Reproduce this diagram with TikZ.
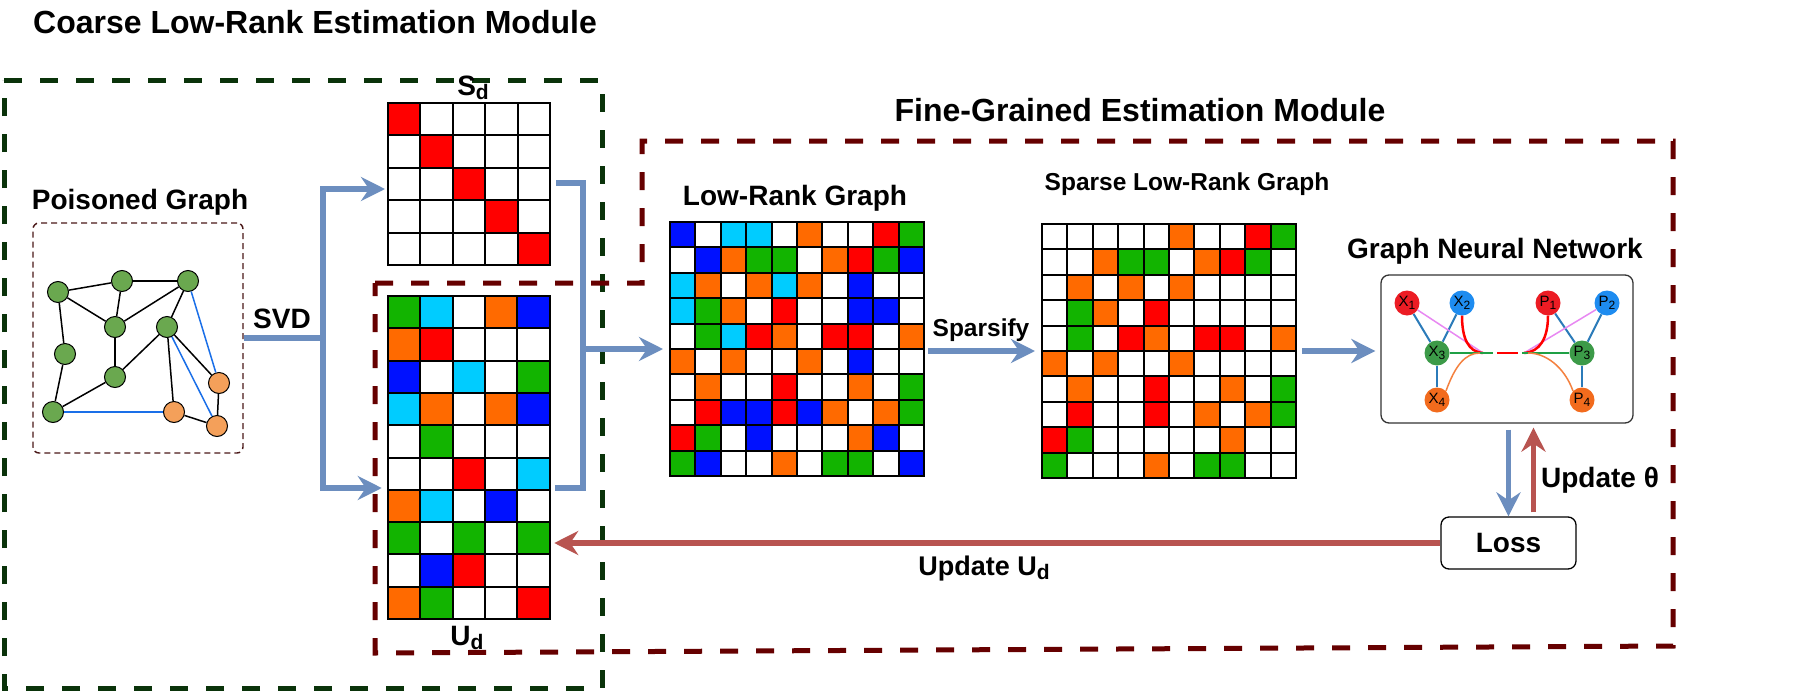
\documentclass[tikz,border=0pt]{standalone}
\usepackage{fontspec}
\setmainfont{Liberation Sans}
\usetikzlibrary{arrows.meta,calc}

\definecolor{mG}{HTML}{12B400}
\definecolor{mC}{HTML}{00CCFF}
\definecolor{mW}{HTML}{FFFFFF}
\definecolor{mO}{HTML}{FF6A00}
\definecolor{mB}{HTML}{0011FF}
\definecolor{mR}{HTML}{FF0000}
\definecolor{arrB}{HTML}{6C8EBF}
\definecolor{arrR}{HTML}{B85450}
\definecolor{boxG}{HTML}{0A330A}
\definecolor{boxR}{HTML}{660000}
\definecolor{pgBox}{HTML}{4A1818}
\definecolor{pgG}{HTML}{6AA84F}
\definecolor{pgO}{HTML}{F4A05A}
\definecolor{pgE}{HTML}{1A6FE8}
\definecolor{gR}{HTML}{EC1C24}
\definecolor{gB}{HTML}{1E8CF0}
\definecolor{gG}{HTML}{3C9A48}
\definecolor{gO}{HTML}{F26B1D}
\definecolor{gE}{HTML}{2B7BB9}
\definecolor{gP}{HTML}{E888F2}
\definecolor{gGl}{HTML}{1FA045}

\newcommand{\cellgrid}[6]{%
  \foreach \rw [count=\ri from 0] in {#6}{%
    \foreach \cl [count=\ci from 0] in \rw {%
      \fill[fill=m\cl] ({#1+\ci*#3},{#2+\ri*#3}) rectangle ++(#3,#3);
    }%
  }%
  \foreach \k in {0,...,#4} \draw[gridl] ({#1+\k*#3},#2) -- ({#1+\k*#3},{#2+#5*#3});
  \foreach \k in {0,...,#5} \draw[gridl] (#1,{#2+\k*#3}) -- ({#1+#4*#3},{#2+\k*#3});
  \draw[gridl] (#1,#2) rectangle ({#1+#4*#3},{#2+#5*#3});
}
\newcommand{\gsub}[2]{#1\raisebox{-0.35ex}{\fontsize{12}{12}\selectfont #2}}
\newcommand{\bsub}[2]{#1\raisebox{-0.3ex}{\fontsize{21}{21}\selectfont #2}}

\begin{document}
\begin{tikzpicture}[x=1pt,y=-1pt,
  gridl/.style={draw=black,line width=2pt,line join=miter},
  mtx/.style={inner sep=0pt,outer sep=0pt,draw=none},
  lbl/.style={font=\fontsize{28}{32}\selectfont\bfseries,inner sep=0pt,anchor=base},
  slbl/.style={font=\fontsize{24.5}{28}\selectfont\bfseries,inner sep=0pt,anchor=base},
  ttl/.style={font=\fontsize{32}{36}\selectfont\bfseries,inner sep=0pt,anchor=base},
  bline/.style={draw=arrB,line width=5.5pt},
  barrow/.style={draw=arrB,line width=5.5pt,-{Stealth[length=24pt,width=24pt,inset=8pt]}},
  rarrow/.style={draw=arrR,line width=5.5pt,-{Stealth[length=24pt,width=24pt,inset=8pt]}},
  gbox/.style={draw=boxG,line width=5pt,dash pattern=on 18pt off 18pt},
  rbox/.style={draw=boxR,line width=5pt,dash pattern=on 18pt off 18pt},
  pn/.style={circle,draw=black,line width=1pt,minimum size=21pt,inner sep=0pt},
  pe/.style={draw=black,line width=1.5pt},
  pb/.style={draw=pgE,line width=1.5pt},
  gn/.style={circle,minimum size=25pt,inner sep=0pt,font=\fontsize{15}{15}\selectfont},
  gedge/.style={draw=gE,line width=2pt},
  gpink/.style={draw=gP,line width=1.5pt},
  gred/.style={draw=red,line width=2.5pt},
  ggreen/.style={draw=gGl,line width=2.5pt},
  gorange/.style={draw=gO!85!white,line width=1.5pt},
  rbx/.style={draw=black,line width=1.3pt,rounded corners=8pt,inner sep=0pt}
]
\useasboundingbox (0,0) rectangle (1816,691);
\fill[white] (0,0) rectangle (1816,691);

% module boxes
\draw[gbox] (4,80) -- (602,80) -- (602,688) -- (4,688) -- cycle;
\draw[rbox] (375,283) -- (642,283) -- (642,141) -- (1673,141) -- (1673,646) -- (375,653) -- cycle;

% titles
\node[ttl] (t1) at (315,33) {Coarse Low-Rank Estimation Module};
\node[ttl] (t2) at (1140,121) {Fine-Grained Estimation Module};

% poisoned graph
\node[lbl] (pgl) at (140,209) {Poisoned Graph};
\node[draw=pgBox,line width=1.4pt,dash pattern=on 6pt off 4pt,rounded corners=6pt,minimum width=210pt,minimum height=230pt,inner sep=0pt] (pg) at (138,338) {};
\node[pn,fill=pgG] (p1) at (58,292) {};
\node[pn,fill=pgG] (p2) at (122,281) {};
\node[pn,fill=pgG] (p3) at (188,281) {};
\node[pn,fill=pgG] (p4) at (115,327) {};
\node[pn,fill=pgG] (p5) at (167,327) {};
\node[pn,fill=pgG] (p6) at (65,354) {};
\node[pn,fill=pgG] (p7) at (115,377) {};
\node[pn,fill=pgG] (p8) at (53,412) {};
\node[pn,fill=pgO] (p9) at (219,383) {};
\node[pn,fill=pgO] (p10) at (174,412) {};
\node[pn,fill=pgO] (p11) at (217,426) {};
\draw[pe] (p1) -- (p2);
\draw[pe] (p2) -- (p3);
\draw[pe] (p1) -- (p4);
\draw[pe] (p2) -- (p4);
\draw[pe] (p4) -- (p3);
\draw[pe] (p3) -- (p5);
\draw[pe] (p1) -- (p6);
\draw[pe] (p6) -- (p8);
\draw[pe] (p4) -- (p7);
\draw[pe] (p7) -- (p8);
\draw[pe] (p7) -- (p5);
\draw[pe] (p5) -- (p10);
\draw[pe] (p5) -- (p9);
\draw[pe] (p9) -- (p11);
\draw[pe] (p10) -- (p11);
\draw[pb] (p3) -- (p9);
\draw[pb] (p5) -- (p11);
\draw[pb] (p8) -- (p10);

% S_d
\cellgrid{388}{103}{32.4}{5}{5}{{R,W,W,W,W},{W,R,W,W,W},{W,W,R,W,W},{W,W,W,R,W},{W,W,W,W,R}}
\node[mtx,minimum width=162pt,minimum height=162pt] (sd) at (469,184) {};
\node[lbl] (sdl) at (473,95) {\bsub{S}{d}};

% U_d
\cellgrid{388}{296}{32.3}{5}{10}{{G,C,W,O,B},{O,R,W,W,W},{B,W,C,W,G},{C,O,W,O,B},{W,G,W,W,W},{W,W,R,W,C},{O,C,W,B,W},{G,W,G,W,G},{W,B,R,W,W},{O,G,W,W,R}}
\node[mtx,minimum width=161.5pt,minimum height=323pt] (ud) at (469.5,457.5) {};
\node[lbl] (udl) at (467,645) {\bsub{U}{d}};

% Low-rank graph
\cellgrid{670}{222}{25.4}{10}{10}{{B,W,C,C,W,O,W,W,R,G},{W,B,O,G,G,W,O,R,G,B},{C,O,W,O,C,O,W,B,W,W},{C,G,O,W,R,W,W,B,B,W},{W,G,C,R,O,W,R,R,W,O},{O,W,O,W,W,O,W,B,W,W},{W,O,W,W,R,W,W,O,W,G},{W,R,B,B,R,B,O,W,O,G},{R,G,W,B,W,W,W,O,B,W},{G,B,W,W,O,W,G,G,W,B}}
\node[mtx,minimum width=254pt,minimum height=254pt] (lr) at (797,349) {};
\node[lbl] (lrl) at (795,205) {Low-Rank Graph};

% Sparse low-rank graph
\cellgrid{1042}{224}{25.4}{10}{10}{{W,W,W,W,W,O,W,W,R,G},{W,W,O,G,G,W,O,R,G,W},{W,O,W,O,W,O,W,W,W,W},{W,G,O,W,R,W,W,W,W,W},{W,G,W,R,O,W,R,R,W,O},{O,W,O,W,W,O,W,W,W,W},{W,O,W,W,R,W,W,O,W,G},{W,R,W,W,R,W,O,W,O,G},{R,G,W,W,W,W,W,O,W,W},{G,W,W,W,O,W,G,G,W,W}}
\node[mtx,minimum width=254pt,minimum height=254pt] (sp) at (1169,351) {};
\node[slbl] (spl) at (1187,190) {Sparse Low-Rank Graph};

% GNN
\node[lbl] (gnnl) at (1495,258) {Graph Neural Network};
\node[rbx,draw=black!80,minimum width=252pt,minimum height=148pt] (gnn) at (1507,349) {};
\node[gn,fill=gR] (x1) at (1407,303) {\gsub{X}{1}};
\node[gn,fill=gB] (x2) at (1462,303) {\gsub{X}{2}};
\node[gn,fill=gG] (x3) at (1437,353) {\gsub{X}{3}};
\node[gn,fill=gO] (x4) at (1437,400) {\gsub{X}{4}};
\node[gn,fill=gR] (q1) at (1548,303) {\gsub{P}{1}};
\node[gn,fill=gB] (q2) at (1607,303) {\gsub{P}{2}};
\node[gn,fill=gG] (q3) at (1582,353) {\gsub{P}{3}};
\node[gn,fill=gO] (q4) at (1582,400) {\gsub{P}{4}};
\coordinate (cl) at (1483,353);
\coordinate (cr) at (1524,353);
\coordinate (gla) at (1493,353);
\coordinate (grb) at (1522,353);
\coordinate (rda) at (1497,353);
\coordinate (rdb) at (1518,353);
\coordinate (ola) at (1480,353);
\coordinate (orb) at (1528,353);
\draw[gedge] (x1) -- (x3);
\draw[gedge] (x2) -- (x3);
\draw[gedge] (x3) -- (x4);
\draw[gedge] (q1) -- (q3);
\draw[gedge] (q2) -- (q3);
\draw[gedge] (q3) -- (q4);
\draw[gpink] (x1) -- (cl);
\draw[gpink] (q2) -- (cr);
\draw[gred] (x2.south) .. controls (1462,338) and (1468,352) .. (cl);
\draw[gred] (q1.south) .. controls (1548,338) and (1540,352) .. (cr);
\draw[ggreen] (x3) -- (gla);
\draw[ggreen] (grb) -- (q3);
\draw[gred] (rda) -- (rdb);
\draw[gorange] (x4.north east) .. controls (1455,366) and (1465,353) .. (ola);
\draw[gorange] (q4.north west) .. controls (1564,366) and (1545,353) .. (orb);

% Loss
\node[rbx,minimum width=135pt,minimum height=52pt,font=\fontsize{28}{32}\selectfont\bfseries] (loss) at (1508.5,543) {Loss};

% labels
\node[lbl] (svdl) at (282,328) {SVD};
\node[slbl] (spfl) at (981,336) {Sparsify};
\node[lbl] (upth) at (1600,487) {Update θ};
\node[lbl,font=\fontsize{27}{31}\selectfont\bfseries] (upud) at (984,575) {Update \bsub{U}{d}};

% connectors
\coordinate (j1) at (323,338);
\draw[bline] (pg.east) -- (j1);
\draw[barrow] (j1) |- ($(sd.west)+(-3,5)$);
\draw[barrow] (j1) |- ($(ud.west)+(-7,30.5)$);
\coordinate (b1) at (583,349);
\draw[bline] ($(sd.east)+(6,-1)$) -| (b1);
\draw[bline] ($(ud.east)+(4.5,30.5)$) -| (b1);
\draw[barrow,shorten >=7pt] (b1) -- (lr.west);
\draw[barrow,shorten <=4pt,shorten >=7pt] (sp.west -| lr.east) -- (sp.west);
\draw[barrow,shorten <=6pt,shorten >=5pt] (sp.east) -- (sp.east -| gnn.west);
\draw[barrow,shorten <=6pt] (loss.north |- gnn.south) -- (loss.north);
\draw[rarrow,shorten <=4pt,shorten >=4pt] ($(loss.north)+(25,0)$) -- ($(loss.north |- gnn.south)+(25,0)$);
\draw[rarrow,shorten >=4pt] (loss.west) -- (loss.west -| ud.east);
\end{tikzpicture}
\end{document}
